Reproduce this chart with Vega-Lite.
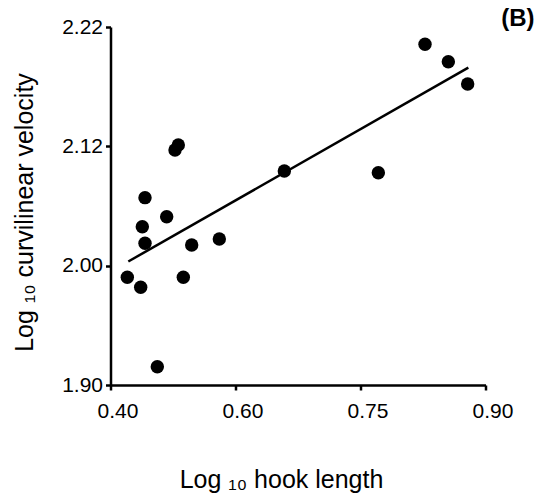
{
  "$schema": "https://vega.github.io/schema/vega-lite/v6.json",
  "width": 375,
  "height": 358,
  "autosize": {"type": "none"},
  "padding": {"left": 110.5, "top": 27, "right": 55.5, "bottom": 119},
  "background": "white",
  "config": {
    "view": {"stroke": null},
    "font": "Liberation Sans",
    "axis": {
      "grid": false,
      "domainColor": "black",
      "domainWidth": 2.5,
      "tickColor": "black",
      "tickWidth": 2.5,
      "tickSize": 5,
      "labelFont": "Liberation Sans",
      "labelFontSize": 21,
      "labelColor": "black",
      "labelFlush": false,
      "labelOverlap": false,
      "titleFont": "Liberation Sans",
      "titleFontSize": 25,
      "titleFontWeight": "normal",
      "titleColor": "black"
    }
  },
  "title": {
    "text": "(B)",
    "anchor": "end",
    "frame": "group",
    "dx": 49,
    "dy": 30,
    "offset": -4,
    "baseline": "alphabetic",
    "fontSize": 24,
    "fontWeight": "bold",
    "font": "Liberation Sans",
    "color": "black"
  },
  "datasets": {
    "points": [
      {"hook": 0.4269, "velocity": 1.9903},
      {"hook": 0.4483, "velocity": 1.9819},
      {"hook": 0.4552, "velocity": 2.0684},
      {"hook": 0.4509, "velocity": 2.0392},
      {"hook": 0.4552, "velocity": 2.0225},
      {"hook": 0.4749, "velocity": 1.9153},
      {"hook": 0.4899, "velocity": 2.0492},
      {"hook": 0.5032, "velocity": 2.1163},
      {"hook": 0.5085, "velocity": 2.1211},
      {"hook": 0.5165, "velocity": 1.9903},
      {"hook": 0.5299, "velocity": 2.0208},
      {"hook": 0.5741, "velocity": 2.0268},
      {"hook": 0.6586, "velocity": 2.0952},
      {"hook": 0.7714, "velocity": 2.0935},
      {"hook": 0.8274, "velocity": 2.2055},
      {"hook": 0.8554, "velocity": 2.1909},
      {"hook": 0.8786, "velocity": 2.1722}
    ],
    "fit": [
      {"hook": 0.4285, "velocity": 2.0042},
      {"hook": 0.8794, "velocity": 2.1859}
    ]
  },
  "layer": [
    {
      "data": {"name": "fit"},
      "mark": {"type": "line", "color": "black", "strokeWidth": 2.5},
      "encoding": {
        "x": {
          "field": "hook", "type": "quantitative",
          "scale": {"domain": [0.4, 0.6, 0.75, 0.9], "range": [0, 125, 250, 375], "nice": false, "zero": false}
        },
        "y": {
          "field": "velocity", "type": "quantitative",
          "scale": {"domain": [1.9, 2.0, 2.12, 2.22], "range": [358, 238.67, 119.33, 0], "nice": false, "zero": false}
        }
      }
    },
    {
      "data": {"name": "points"},
      "mark": {"type": "circle", "color": "black", "size": 180, "opacity": 1},
      "encoding": {
        "x": {
          "field": "hook", "type": "quantitative",
          "scale": {"domain": [0.4, 0.6, 0.75, 0.9], "range": [0, 125, 250, 375], "nice": false, "zero": false},
          "axis": {
            "title": "Log ₁₀ hook length",
            "values": [0.4, 0.6, 0.75, 0.9],
            "format": ".2f",
            "labelOffset": 7,
            "labelPadding": 10,
            "titleX": 170.5,
            "titleY": 102,
            "titleAlign": "center",
            "titleBaseline": "alphabetic"
          }
        },
        "y": {
          "field": "velocity", "type": "quantitative",
          "scale": {"domain": [1.9, 2.0, 2.12, 2.22], "range": [358, 238.67, 119.33, 0], "nice": false, "zero": false},
          "axis": {
            "title": "Log ₁₀ curvilinear velocity",
            "values": [1.9, 2.0, 2.12, 2.22],
            "format": ".2f",
            "labelPadding": 3,
            "titleAngle": -90,
            "titleX": -86,
            "titleY": 185,
            "titleAlign": "center",
            "titleBaseline": "middle"
          }
        }
      }
    }
  ]
}
